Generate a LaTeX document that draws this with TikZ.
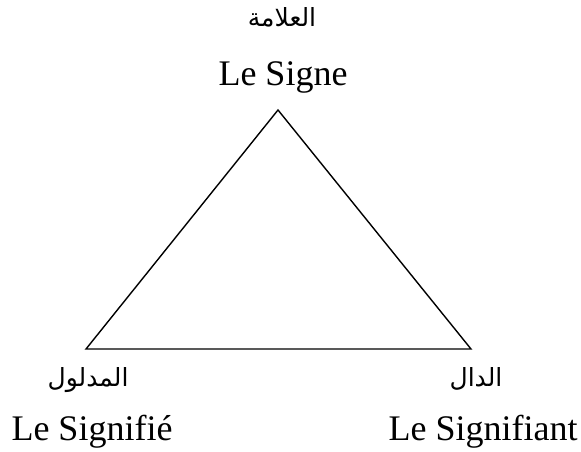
\documentclass[tikz,border=0pt]{standalone}
\usepackage{fontspec}
\setmainfont{Liberation Serif}
\newfontfamily\arabicfont[Script=Arabic]{DejaVu Sans}
\TeXXeTstate=1
\begin{document}
\begin{tikzpicture}[x=1pt,y=-1pt,
  fr/.style={anchor=base,inner sep=0pt,font=\fontsize{36}{40}\selectfont},
  ar/.style={anchor=base,inner sep=0pt,font=\arabicfont\fontsize{25}{29}\selectfont},
  edge/.style={draw=black,line width=1.4pt,line join=miter}]
\useasboundingbox[fill=white] (0,0) rectangle (581,452);
\coordinate (top) at (278,110);
\coordinate (bl) at (86,349);
\coordinate (br) at (471,349);
\draw[edge] (top) -- (bl) -- (br) -- cycle;
\node[ar] (arTop) at (282,27) {\beginR العلامة\endR};
\node[fr] (signe) at (283,85) {Le Signe};
\node[ar] (arL) at (88,386) {\beginR المدلول\endR};
\node[fr] (signifie) at (92,440) {Le Signifié};
\node[ar] (arR) at (476,386) {\beginR الدال\endR};
\node[fr] (signifiant) at (483,440) {Le Signifiant};
\end{tikzpicture}
\end{document}
